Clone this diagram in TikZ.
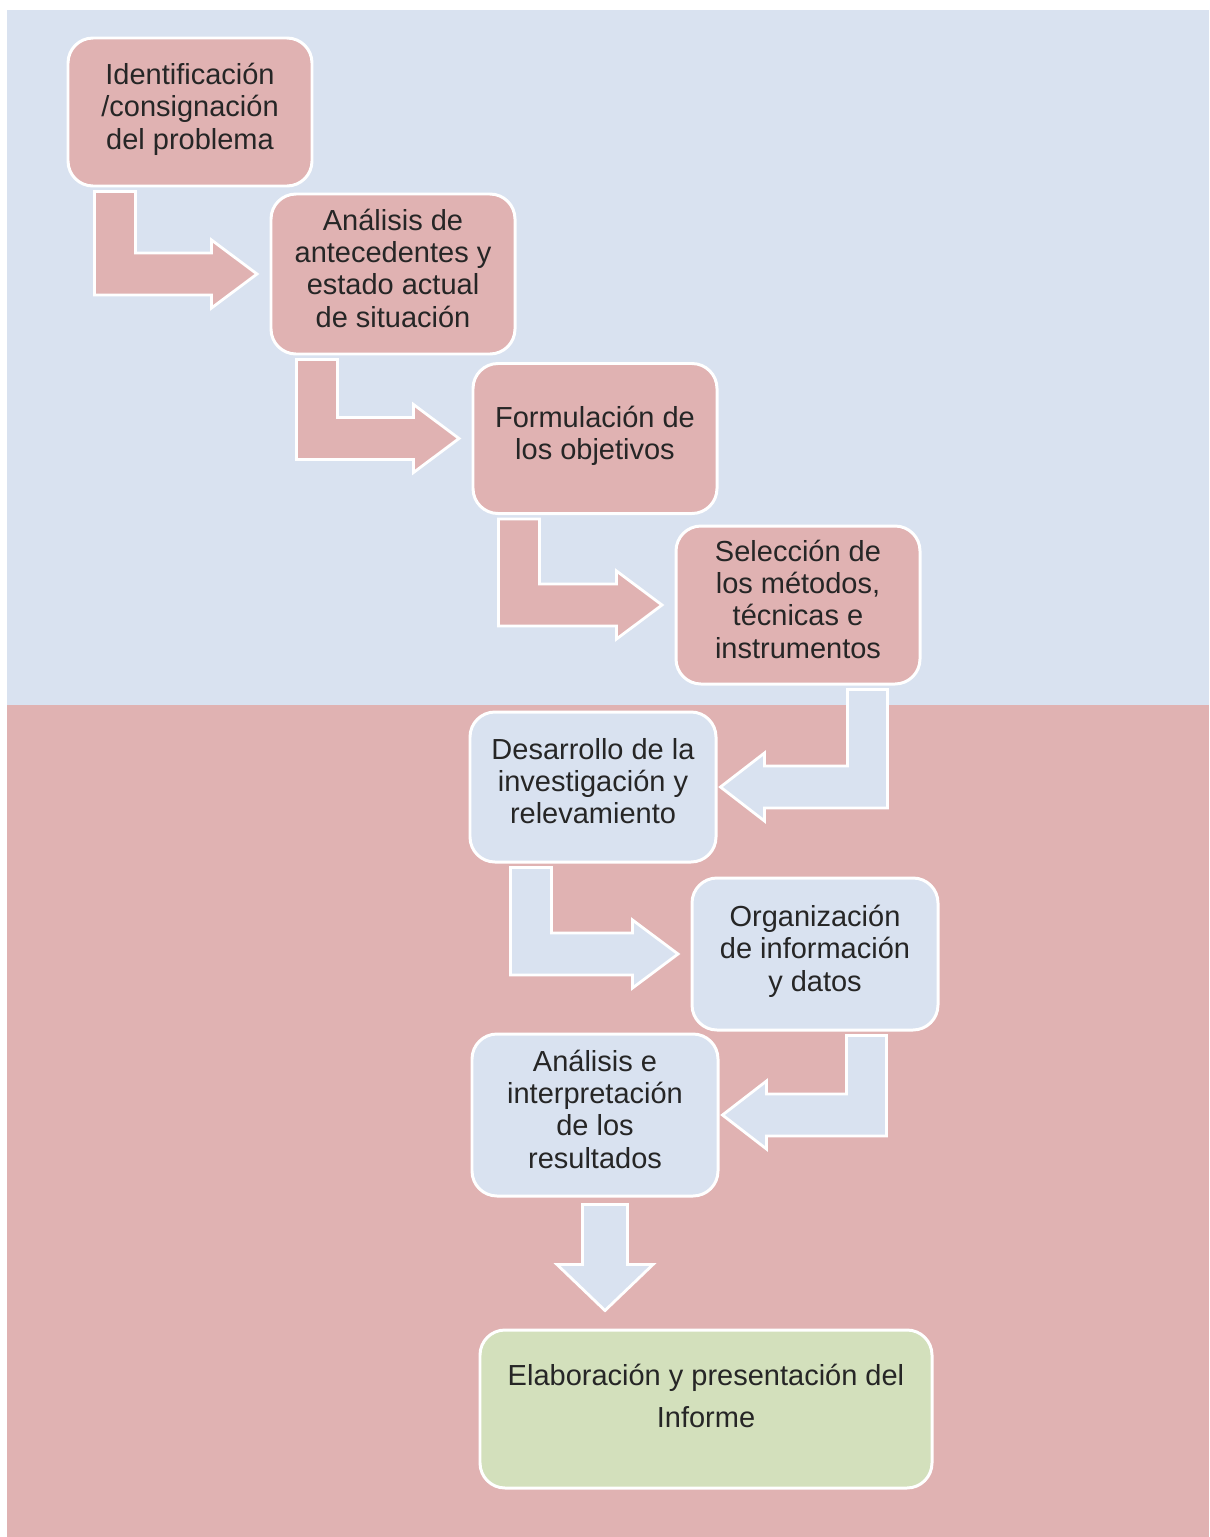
\documentclass[tikz,border=0pt]{standalone}
\usepackage{fontspec}
\setmainfont{Liberation Sans}
\usetikzlibrary{calc}

\definecolor{bgblue}{HTML}{D9E2F0}
\definecolor{bgred}{HTML}{E0B2B2}
\definecolor{boxgreen}{HTML}{D3E0BC}

% bent arrow going down then right, into the left side of the next stage
\newcommand{\stepright}[4]{%
  \filldraw[flow, fill=#3] let \p1=(#1.south west), \p2=(#2.west) in
    (\x1+#4,\y1-0.08cm) -- (\x1+#4+0.82cm,\y1-0.08cm) -- (\x1+#4+0.82cm,\y2+0.42cm)
    -- (\x2-1.16cm,\y2+0.42cm) -- (\x2-1.16cm,\y2+0.68cm) -- (\x2-0.25cm,\y2)
    -- (\x2-1.16cm,\y2-0.68cm) -- (\x2-1.16cm,\y2-0.42cm) -- (\x1+#4,\y2-0.42cm) -- cycle;
}
% bent arrow going down then left, into the right side of the next stage
\newcommand{\stepleft}[4]{%
  \filldraw[flow, fill=#3] let \p1=(#1.south east), \p2=(#2.east) in
    (\x1-#4,\y1-0.08cm) -- (\x1-#4-0.8cm,\y1-0.08cm) -- (\x1-#4-0.8cm,\y2+0.42cm)
    -- (\x2+0.94cm,\y2+0.42cm) -- (\x2+0.94cm,\y2+0.68cm) -- (\x2+0.06cm,\y2)
    -- (\x2+0.94cm,\y2-0.68cm) -- (\x2+0.94cm,\y2-0.42cm) -- (\x1-#4,\y2-0.42cm) -- cycle;
}

\begin{document}
\begin{tikzpicture}[
    stage/.style={draw=white, line width=1.7pt, rounded corners=0.5cm, align=center,
      minimum width=4.88cm, minimum height=3cm, text=black!85, text depth=0.24cm,
      font=\fontsize{16.5}{18.4}\selectfont},
    flow/.style={draw=white, line width=1.6pt, line join=miter}
  ]
  \useasboundingbox (0,0) rectangle (24.18,-30.74);
  \fill[white] (0,0) rectangle (24.18,-30.74);
  \fill[bgblue] (0.14,-0.2) rectangle (24.18,-14.1);
  \fill[bgred] (0.14,-14.1) rectangle (24.18,-30.74);

  \node[stage, fill=bgred, minimum height=2.96cm] (ident) at (3.80,-2.24) {Identificación\\/consignación\\del problema};
  \node[stage, fill=bgred, minimum height=3.2cm] (antec) at (7.86,-5.48) {Análisis de\\antecedentes y\\estado actual\\de situación};
  \node[stage, fill=bgred] (objet) at (11.90,-8.77) {Formulación de\\los objetivos};
  \node[stage, fill=bgred, minimum height=3.16cm] (metod) at (15.96,-12.10) {Selección de\\los métodos,\\técnicas e\\instrumentos};
  \node[stage, fill=bgblue, minimum width=4.92cm] (desarr) at (11.86,-15.74) {Desarrollo de la\\investigación y\\relevamiento};
  \node[stage, fill=bgblue, minimum width=4.92cm, minimum height=3.04cm] (organiz) at (16.30,-19.08) {Organización\\de información\\y datos};
  \node[stage, fill=bgblue, minimum width=4.92cm, minimum height=3.24cm] (interp) at (11.90,-22.30) {Análisis e\\interpretación\\de los\\resultados};
  \node[stage, fill=boxgreen, minimum width=9.04cm, minimum height=3.16cm, text depth=0.52cm,
    font=\fontsize{16.5}{23.8}\selectfont] (informe) at (14.12,-28.18) {Elaboración y presentación del\\Informe};

  \stepright{ident}{antec}{bgred}{0.56cm}
  \stepright{antec}{objet}{bgred}{0.54cm}
  \stepright{objet}{metod}{bgred}{0.54cm}
  \stepleft{metod}{desarr}{bgblue}{0.68cm}
  \stepright{desarr}{organiz}{bgblue}{0.84cm}
  \stepleft{organiz}{interp}{bgblue}{1.06cm}

  \filldraw[flow, fill=bgblue] let \p1=(interp.south), \p2=(informe.north) in
    (\x1-0.25cm,\y1-0.14cm) -- (\x1+0.65cm,\y1-0.14cm) -- (\x1+0.65cm,\y1-1.34cm)
    -- (\x1+1.16cm,\y1-1.34cm) -- (\x1+0.2cm,\y2+0.36cm) -- (\x1-0.76cm,\y1-1.34cm)
    -- (\x1-0.25cm,\y1-1.34cm) -- cycle;
\end{tikzpicture}
\end{document}
